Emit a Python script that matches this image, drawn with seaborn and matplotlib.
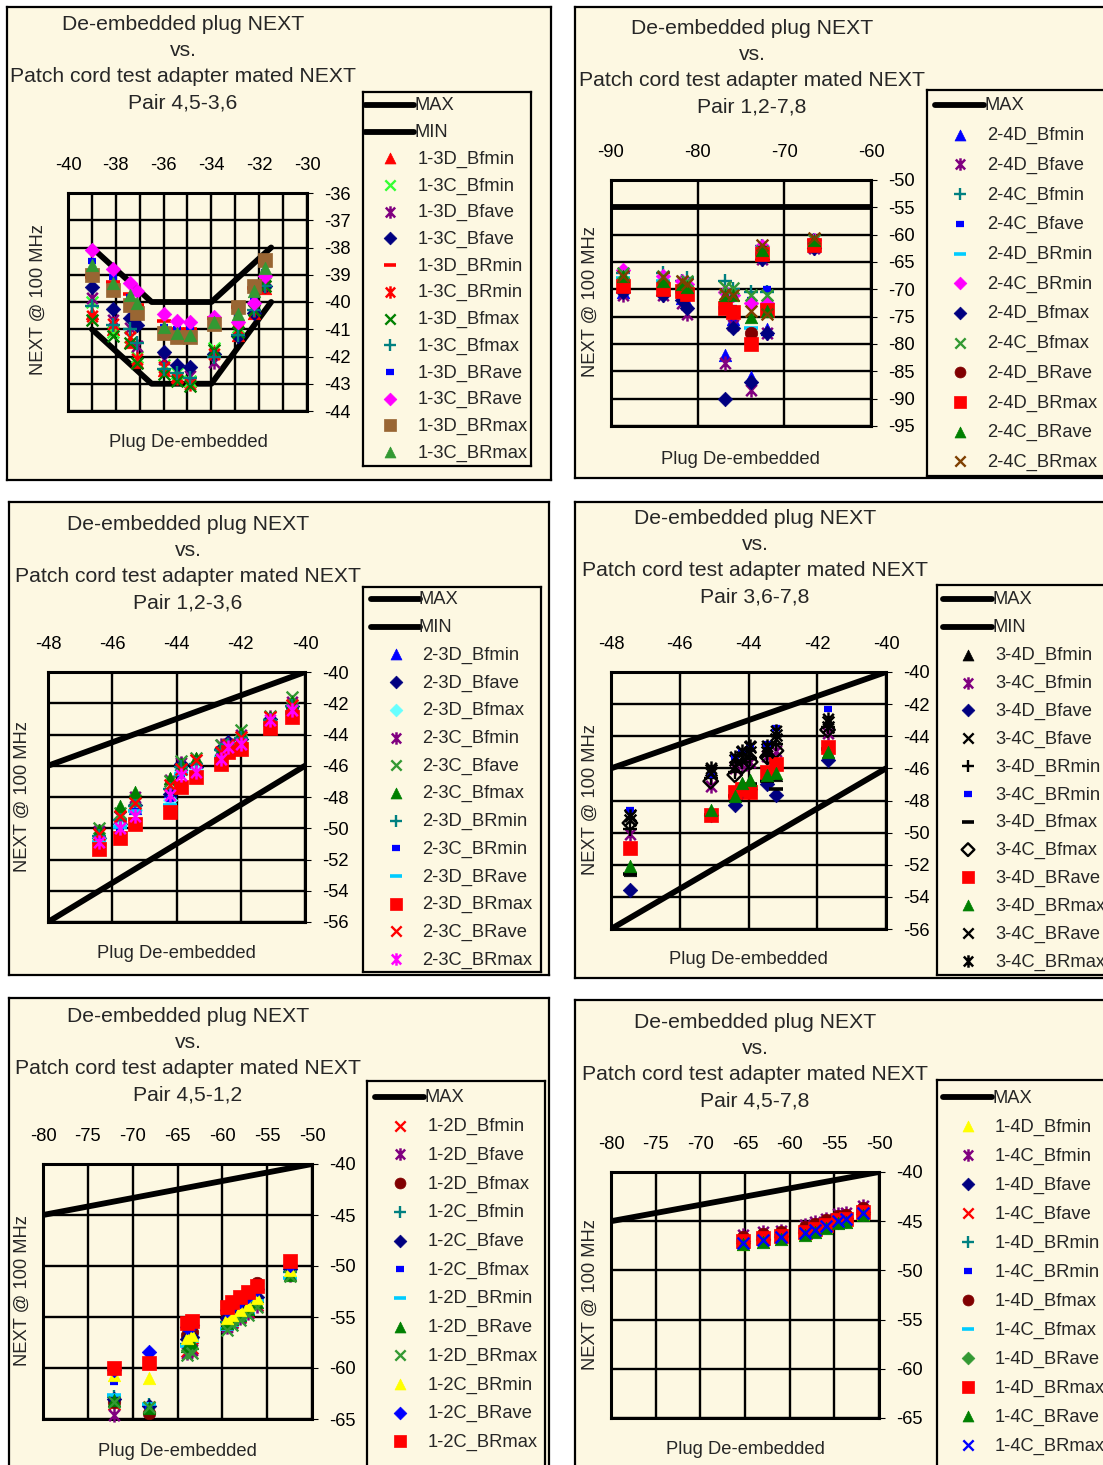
import matplotlib
matplotlib.use('Agg')
import matplotlib.pyplot as plt
from matplotlib.markers import MarkerStyle
from matplotlib.path import Path
import seaborn as sns

sns.set_style('white')
plt.rcParams['font.family'] = ['Liberation Sans', 'DejaVu Sans']

W, H = 1103, 1465
BG = '#FDF8E2'

TITLE1 = 'De-embedded plug NEXT'
TITLE2 = 'vs.'
TITLE3 = 'Patch cord test adapter mated NEXT'

# ---------------- panel 1 : pair 4,5-3,6 ----------------
p1_names = ['1-3D_Bfmin', '1-3C_Bfmin', '1-3D_Bfave', '1-3C_Bfave', '1-3D_BRmin', '1-3C_BRmin',
            '1-3D_Bfmax', '1-3C_Bfmax', '1-3D_BRave', '1-3C_BRave', '1-3D_BRmax', '1-3C_BRmax']
p1_x = [-39.0, -38.1, -37.4, -37.1, -36.0, -35.45, -34.9, -33.9, -32.9, -32.2, -31.75]
p1_y = [
    [-40.4, -41.0, -41.45, -42.2, -42.5, -42.7, -42.9, -41.8, -41.2, -40.4, -39.5],
    [-40.0, -41.1, -41.3, -42.0, -42.3, -42.6, -42.9, -41.7, -40.9, -40.2, -39.3],
    [-39.85, -40.65, -40.95, -41.6, -42.1, -42.5, -42.7, -42.2, -41.1, -40.3, -39.4],
    [-39.45, -40.25, -40.6, -40.85, -41.85, -42.3, -42.4, -41.9, -41.25, -40.4, -39.4],
    [-39.1, -39.25, -39.7, -40.1, -40.7, -41.0, -41.0, -40.6, -40.2, -39.5, -38.5],
    [-40.5, -40.8, -41.3, -42.1, -42.4, -42.8, -43.0, -41.9, -41.0, -40.3, -39.4],
    [-40.65, -41.25, -41.5, -42.25, -42.65, -42.9, -43.1, -41.75, -41.1, -40.3, -39.4],
    [-40.15, -40.85, -41.0, -41.5, -42.45, -42.6, -42.8, -42.0, -41.2, -40.3, -39.4],
    [-38.5, -39.1, -39.8, -40.1, -40.9, -41.0, -40.9, -40.6, -40.4, -39.8, -38.9],
    [-38.1, -38.8, -39.3, -39.6, -40.45, -40.7, -40.75, -40.55, -40.75, -40.05, -39.05],
    [-39.0, -39.55, -40.1, -40.4, -41.15, -41.3, -41.3, -40.8, -40.2, -39.4, -38.45],
    [-38.65, -39.3, -39.75, -40.05, -40.9, -41.15, -41.2, -40.75, -40.45, -39.6, -38.75],
]
p1_max_x = [-39.0, -36.5, -34.0, -31.5]
p1_max_y = [-38.0, -40.0, -40.0, -38.0]
p1_min_x = [-39.0, -36.5, -34.0, -31.5]
p1_min_y = [-41.0, -43.0, -43.0, -40.0]
p1_kinds = ['tri', 'x', 'star', 'dia', 'bar', 'star', 'x', 'plus', 'dash', 'dia', 'sq', 'tri']
p1_colors = ['#FF0000', '#33FF33', '#800080', '#000080', '#FF0000', '#FF0000',
             '#008000', '#008080', '#0000FF', '#FF00FF', '#996633', '#339933']

# ---------------- panel 2 : pair 1,2-7,8 ----------------
p2_names = ['2-4D_Bfmin', '2-4D_Bfave', '2-4C_Bfmin', '2-4C_Bfave', '2-4D_BRmin', '2-4C_BRmin',
            '2-4D_Bfmax', '2-4C_Bfmax', '2-4D_BRave', '2-4D_BRmax', '2-4C_BRave', '2-4C_BRmax']
p2_x = [-88.6, -84.0, -81.8, -81.2, -76.9, -75.9, -73.9, -72.6, -72.0, -66.6]
p2_y = [
    [-70.5, -70.0, -71.5, -72.5, -82.0, -75.5, -86.0, -63.5, -77.2, -62.0],
    [-71.0, -71.0, -72.5, -74.5, -83.5, -76.5, -88.5, -64.5, -78.0, -62.5],
    [-67.0, -67.0, -68.5, -68.0, -68.5, -70.0, -70.5, -62.0, -70.5, -61.0],
    [-69.5, -69.5, -70.0, -70.5, -73.0, -73.5, -72.0, -64.0, -70.0, -62.0],
    [-68.0, -68.5, -70.5, -70.8, -73.5, -74.5, -77.0, -63.5, -73.0, -61.5],
    [-66.5, -67.5, -68.5, -69.0, -70.5, -71.0, -72.5, -62.0, -72.5, -61.0],
    [-70.5, -71.0, -72.0, -73.5, -90.0, -77.0, -87.0, -64.5, -78.0, -62.5],
    [-67.0, -67.5, -68.5, -68.5, -69.5, -69.8, -71.0, -63.0, -71.0, -61.0],
    [-69.0, -69.8, -70.5, -71.0, -73.0, -74.0, -78.0, -63.0, -74.0, -61.5],
    [-69.3, -70.0, -70.3, -70.8, -73.5, -74.2, -80.0, -63.5, -73.8, -61.8],
    [-67.5, -68.5, -69.0, -69.5, -71.0, -71.0, -75.0, -62.8, -74.0, -61.0],
    [-67.5, -67.8, -68.5, -69.0, -70.8, -71.0, -74.0, -61.8, -74.5, -60.7],
]
p2_max_x = [-90.0, -60.0]
p2_max_y = [-55.0, -55.0]
p2_kinds = ['tri', 'star', 'plus', 'dash', 'bar', 'dia', 'dia', 'x', 'circle', 'sq', 'tri', 'x']
p2_colors = ['#0000FF', '#800080', '#008080', '#0000FF', '#00CCFF', '#FF00FF',
             '#000080', '#339933', '#800000', '#FF0000', '#008000', '#7F3F00']

# ---------------- panel 3 : pair 1,2-3,6 ----------------
p3_names = ['2-3D_Bfmin', '2-3D_Bfave', '2-3D_Bfmax', '2-3C_Bfmin', '2-3C_Bfave', '2-3C_Bfmax',
            '2-3D_BRmin', '2-3C_BRmin', '2-3D_BRave', '2-3D_BRmax', '2-3C_BRave', '2-3C_BRmax']
p3_x = [-46.4, -45.75, -45.3, -44.2, -43.85, -43.4, -42.6, -42.4, -42.0, -41.1, -40.4]
p3_y = [
    [-50.5, -49.6, -48.7, -47.6, -46.0, -46.0, -45.0, -44.6, -44.2, -43.0, -42.0],
    [-50.6, -49.7, -48.5, -47.8, -45.9, -46.1, -44.9, -44.5, -44.3, -43.0, -42.2],
    [-50.7, -49.8, -48.8, -48.2, -46.3, -46.3, -45.3, -45.0, -44.5, -43.3, -42.5],
    [-50.2, -49.3, -48.0, -46.9, -45.8, -45.6, -44.7, -44.6, -44.0, -42.9, -41.9],
    [-50.0, -49.0, -48.2, -47.0, -45.7, -45.5, -44.7, -44.7, -43.7, -42.8, -41.6],
    [-50.1, -48.6, -47.7, -46.8, -45.9, -45.5, -44.9, -44.8, -43.9, -42.9, -41.9],
    [-50.5, -49.5, -48.6, -47.5, -46.1, -45.9, -45.0, -44.7, -44.2, -43.1, -42.2],
    [-50.8, -50.0, -48.9, -48.1, -46.6, -46.5, -45.4, -45.1, -44.6, -43.3, -42.6],
    [-50.9, -49.9, -48.9, -48.5, -46.5, -46.5, -45.5, -45.0, -44.7, -43.4, -42.6],
    [-51.3, -50.65, -49.7, -48.95, -47.35, -46.7, -45.9, -45.1, -44.9, -43.6, -42.9],
    [-50.35, -49.2, -48.4, -47.25, -46.2, -45.65, -45.1, -44.7, -44.15, -42.9, -42.1],
    [-50.9, -50.0, -49.2, -47.9, -46.6, -46.4, -45.55, -44.8, -44.6, -43.1, -42.45],
]
p3_max_x = [-48.0, -40.0]
p3_max_y = [-46.0, -40.0]
p3_min_x = [-48.0, -40.0]
p3_min_y = [-56.0, -46.0]
p3_kinds = ['tri', 'dia', 'dia', 'star', 'x', 'tri', 'plus', 'dash', 'bar', 'sq', 'x', 'star']
p3_colors = ['#0000FF', '#000080', '#66FFFF', '#800080', '#339933', '#008000',
             '#008080', '#0000FF', '#00CCFF', '#FF0000', '#FF0000', '#FF00FF']

# ---------------- panel 4 : pair 3,6-7,8 ----------------
p4_names = ['3-4D_Bfmin', '3-4C_Bfmin', '3-4D_Bfave', '3-4C_Bfave', '3-4D_BRmin', '3-4C_BRmin',
            '3-4D_Bfmax', '3-4C_Bfmax', '3-4D_BRave', '3-4D_BRmax', '3-4C_BRave', '3-4C_BRmax']
p4_x = [-47.45, -45.1, -44.4, -44.2, -43.95, -43.45, -43.2, -41.7]
p4_y = [
    [-52.3, -48.7, -47.6, -47.0, -46.8, -46.5, -46.4, -45.0],
    [-50.1, -47.1, -46.0, -45.8, -45.6, -45.2, -44.9, -43.8],
    [-53.6, -48.9, -48.25, -47.5, -47.3, -47.0, -47.65, -45.5],
    [-48.9, -46.1, -45.5, -45.0, -44.7, -44.8, -43.9, -43.1],
    [-49.8, -46.6, -46.2, -45.6, -45.4, -45.2, -44.5, -43.4],
    [-48.6, -46.4, -45.3, -45.0, -44.75, -44.5, -43.5, -42.3],
    [-52.55, -48.9, -47.7, -47.2, -47.0, -46.8, -47.3, -44.8],
    [-49.4, -46.8, -46.4, -45.9, -45.6, -45.3, -44.9, -43.6],
    [-50.95, -48.9, -47.45, -47.3, -47.45, -46.2, -45.7, -44.65],
    [-52.1, -48.6, -47.75, -46.9, -46.7, -46.4, -46.3, -44.95],
    [-49.2, -46.3, -45.9, -45.3, -45.0, -45.0, -44.2, -43.4],
    [-48.95, -46.0, -45.3, -44.9, -44.6, -44.6, -43.7, -42.9],
]
p4_max_x = [-48.0, -40.0]
p4_max_y = [-46.0, -40.0]
p4_min_x = [-48.0, -40.0]
p4_min_y = [-56.0, -46.0]
p4_kinds = ['tri', 'star', 'dia', 'x', 'plus', 'dash', 'bar', 'odia', 'sq', 'tri', 'x', 'star']
p4_colors = ['#000000', '#800080', '#000080', '#000000', '#000000', '#0000FF',
             '#000000', '#000000', '#FF0000', '#008000', '#000000', '#000000']

# ---------------- panel 5 : pair 4,5-1,2 ----------------
p5_names = ['1-2D_Bfmin', '1-2D_Bfave', '1-2D_Bfmax', '1-2C_Bfmin', '1-2C_Bfave', '1-2C_Bfmax',
            '1-2D_BRmin', '1-2D_BRave', '1-2D_BRmax', '1-2C_BRmin', '1-2C_BRave', '1-2C_BRmax']
p5_x = [-72.1, -68.2, -63.9, -63.4, -59.5, -58.9, -58.0, -57.1, -56.1, -52.4]
p5_y = [
    [-63.5, -63.8, -58.3, -58.0, -55.8, -55.5, -55.0, -54.5, -53.8, -50.8],
    [-64.6, -64.2, -58.5, -58.2, -56.0, -55.6, -55.1, -54.6, -53.9, -50.9],
    [-63.3, -64.4, -56.8, -56.5, -54.8, -54.3, -53.8, -53.0, -51.7, -50.0],
    [-62.8, -63.6, -57.6, -57.3, -55.5, -55.0, -54.6, -54.0, -53.3, -50.6],
    [-63.0, -63.7, -57.2, -57.0, -55.1, -54.7, -54.2, -53.6, -53.0, -50.3],
    [-61.4, -63.9, -56.2, -56.0, -54.3, -54.0, -53.5, -53.0, -52.3, -49.9],
    [-62.6, -63.5, -57.8, -57.4, -56.2, -55.8, -55.3, -54.7, -53.4, -51.2],
    [-63.1, -63.9, -57.8, -57.5, -55.6, -55.2, -54.8, -54.2, -53.5, -50.9],
    [-63.3, -63.8, -58.7, -58.5, -56.25, -55.8, -55.3, -54.8, -54.0, -51.0],
    [-60.65, -61.0, -57.1, -56.8, -55.1, -54.8, -54.3, -53.8, -53.15, -50.4],
    [-60.2, -58.4, -56.0, -55.8, -54.3, -53.9, -53.4, -52.9, -52.3, -49.9],
    [-60.0, -59.5, -55.6, -55.4, -54.0, -53.5, -53.0, -52.5, -52.0, -49.55],
]
p5_max_x = [-80.0, -50.0]
p5_max_y = [-45.0, -40.0]
p5_kinds = ['x', 'star', 'circle', 'plus', 'dia', 'dash', 'bar', 'tri', 'x', 'tri', 'dia', 'sq']
p5_colors = ['#FF0000', '#800080', '#800000', '#008080', '#000080', '#0000FF',
             '#00CCFF', '#008000', '#339933', '#FFFF00', '#0000FF', '#FF0000']

# ---------------- panel 6 : pair 4,5-7,8 ----------------
p6_names = ['1-4D_Bfmin', '1-4C_Bfmin', '1-4D_Bfave', '1-4C_Bfave', '1-4D_BRmin', '1-4C_BRmin',
            '1-4D_Bfmax', '1-4C_Bfmax', '1-4D_BRave', '1-4D_BRmax', '1-4C_BRave', '1-4C_BRmax']
p6_x = [-65.2, -63.0, -61.0, -58.3, -57.2, -55.9, -54.6, -53.7, -51.8]
p6_y = [
    [-47.3, -47.0, -46.7, -46.3, -46.0, -45.6, -45.1, -45.0, -44.3],
    [-46.4, -46.1, -46.0, -45.4, -45.1, -44.8, -44.3, -44.2, -43.5],
    [-47.0, -46.8, -46.5, -46.1, -45.8, -45.4, -44.9, -44.7, -44.1],
    [-47.1, -46.8, -46.5, -46.1, -45.8, -45.3, -44.8, -44.7, -44.0],
    [-46.9, -46.6, -46.4, -46.0, -45.7, -45.3, -44.8, -44.6, -44.0],
    [-46.8, -46.5, -46.3, -45.9, -45.6, -45.2, -44.7, -44.6, -43.9],
    [-46.6, -46.3, -46.1, -45.6, -45.3, -44.9, -44.5, -44.4, -43.7],
    [-47.0, -46.7, -46.5, -46.0, -45.7, -45.3, -44.9, -44.6, -44.0],
    [-47.2, -46.9, -46.6, -46.2, -45.9, -45.5, -45.1, -45.0, -44.3],
    [-47.0, -46.7, -46.5, -46.1, -45.8, -45.4, -44.9, -44.8, -44.1],
    [-47.3, -47.1, -46.8, -46.4, -46.1, -45.7, -45.2, -45.1, -44.4],
    [-47.2, -46.9, -46.6, -46.2, -45.9, -45.5, -45.0, -44.8, -44.2],
]
p6_max_x = [-80.0, -50.0]
p6_max_y = [-45.0, -40.0]
p6_kinds = ['tri', 'star', 'dia', 'x', 'plus', 'dash', 'circle', 'bar', 'dia', 'sq', 'tri', 'x']
p6_colors = ['#FFFF00', '#800080', '#000080', '#FF0000', '#008080', '#0000FF',
             '#800000', '#00CCFF', '#339933', '#FF0000', '#008000', '#0000FF']


# Excel style star: an x with a vertical bar through it
STAR_PATH = Path([(0, -1), (0, 1), (-0.75, -0.8), (0.75, 0.8), (-0.75, 0.8), (0.75, -0.8)],
                 [Path.MOVETO, Path.LINETO, Path.MOVETO, Path.LINETO, Path.MOVETO, Path.LINETO])

STYLE = {
    'tri': dict(marker='^', s=62),
    'dia': dict(marker='D', s=42),
    'sq': dict(marker='s', s=70),
    'circle': dict(marker='o', s=62),
    'x': dict(marker='x', s=55, linewidth=1.7),
    'star': dict(marker=STAR_PATH, s=80, linewidth=1.8),
    'plus': dict(marker='+', s=70, linewidth=1.7),
    'bar': dict(marker='_', s=85, linewidth=2.6),
    'dash': dict(marker='_', s=32, linewidth=4.5),
    'odia': dict(marker=MarkerStyle('D', fillstyle='none'), s=42, linewidth=1.7),
}
FILLED = {'tri', 'dia', 'sq', 'circle'}


def px_axes(fig, x0, y0, x1, y1, zorder=1):
    return fig.add_axes([x0 / W, 1 - y1 / H, (x1 - x0) / W, (y1 - y0) / H], zorder=zorder)


def kind_kws(kind, color, scale=1.0):
    kw = dict(STYLE[kind])
    kw['s'] = kw['s'] * scale
    kw['edgecolor'] = color
    if kind in FILLED:
        kw['linewidth'] = 0.5
    return kw


def draw_panel(fig, box, plot, xlim, ylim, xticks, xlabels, yticks, bounds,
               title4, tcx, ty0, ylab, xlab, leg, leg_y0, leg_dy, leg_mx, leg_tx,
               names, xs, ys, kinds, colors):
    bg = px_axes(fig, *box, zorder=0)
    bg.set_facecolor(BG)
    bg.set_xticks([])
    bg.set_yticks([])
    for s in bg.spines.values():
        s.set_linewidth(1.6)
        s.set_color('black')

    ax = px_axes(fig, *plot, zorder=2)
    ax.set_facecolor(BG)
    for (bx, by) in bounds:
        sns.lineplot(x=bx, y=by, sort=False, estimator=None, color='black', lw=4.2,
                     solid_capstyle='round', ax=ax, zorder=3)
    for name, yv, kind, col in zip(names, ys, kinds, colors):
        sns.scatterplot(x=xs, y=yv, color=col, ax=ax, zorder=4, legend=False,
                        clip_on=False, **kind_kws(kind, col, 1.3))
    ax.set_xlim(*xlim)
    ax.set_ylim(*ylim)
    ax.set_xticks(xticks, xlabels)
    ax.set_yticks(yticks, [f'{v:g}' for v in yticks])
    ax.xaxis.tick_top()
    ax.yaxis.tick_right()
    ax.tick_params(axis='x', direction='in', length=3, pad=14, labelsize=13.2, colors='black')
    ax.tick_params(axis='y', direction='out', length=4, pad=8, labelsize=13.2, colors='black')
    ax.grid(True, color='black', lw=1.7)
    ax.set_axisbelow(True)
    ax.set_xlabel('')
    ax.set_ylabel('')
    for s in ax.spines.values():
        s.set_linewidth(2.2)
        s.set_color('black')

    for i, line in enumerate(title4):
        fig.text(tcx / W, 1 - (ty0 + 26 * i) / H, line, ha='center', va='center', fontsize=15.2)
    fig.text(ylab[0] / W, 1 - ylab[1] / H, 'NEXT @ 100 MHz', rotation=90,
             ha='center', va='center', fontsize=13.2)
    fig.text(xlab[0] / W, 1 - xlab[1] / H, 'Plug De-embedded', ha='center', va='center',
             fontsize=13.2)

    # legend box drawn in pixel units
    lg = px_axes(fig, *leg, zorder=3)
    lg.set_facecolor(BG)
    lg.set_xlim(leg[0], leg[2])
    lg.set_ylim(leg[3], leg[1])
    lg.set_xticks([])
    lg.set_yticks([])
    for s in lg.spines.values():
        s.set_linewidth(1.6)
        s.set_color('black')
    row = 0
    for lab in ['MAX', 'MIN'][:len(bounds)]:
        yy = leg_y0 + leg_dy * row
        lg.plot([leg_mx - 25, leg_mx + 24], [yy, yy], color='black', lw=4.2,
                solid_capstyle='round')
        lg.text(leg_tx - 3, yy + 1, lab, va='center', ha='left', fontsize=13.2)
        row += 1
    for name, kind, col in zip(names, kinds, colors):
        yy = leg_y0 + leg_dy * row
        lg.scatter([leg_mx], [yy], color=col, **kind_kws(kind, col))
        lg.text(leg_tx, yy + 1, name, va='center', ha='left', fontsize=13.2)
        row += 1


fig = plt.figure(figsize=(W / 100, H / 100), dpi=100)
fig.patch.set_facecolor('white')

ticks1 = list(range(-40, -29))
draw_panel(fig, (7, 7, 551, 480), (68, 193, 307, 411), (-40, -30), (-44, -36),
           ticks1, [str(t) if t % 2 == 0 else '' for t in ticks1], list(range(-44, -35)),
           [(p1_max_x, p1_max_y), (p1_min_x, p1_min_y)],
           [TITLE1, TITLE2, TITLE3, 'Pair 4,5-3,6'], 183, 25, (38, 300), (188, 443),
           (363, 92, 531, 466), 105, 26.7, 390, 418,
           p1_names, p1_x, p1_y, p1_kinds, p1_colors)

ticks2 = [-90, -80, -70, -60]
draw_panel(fig, (575, 7, 1112, 478), (611, 180, 871, 426), (-90, -60), (-95, -50),
           ticks2, [str(t) for t in ticks2], list(range(-95, -49, 5)),
           [(p2_max_x, p2_max_y)],
           [TITLE1, TITLE2, TITLE3, 'Pair 1,2-7,8'], 752, 29, (590, 302), (740, 460),
           (927, 90, 1112, 476), 105, 29.7, 960, 987,
           p2_names, p2_x, p2_y, p2_kinds, p2_colors)

ticks3 = [-48, -46, -44, -42, -40]
draw_panel(fig, (9, 502, 549, 975), (48, 672, 305, 922), (-48, -40), (-56, -40),
           ticks3, [str(t) for t in ticks3], list(range(-56, -39, 2)),
           [(p3_max_x, p3_max_y), (p3_min_x, p3_min_y)],
           [TITLE1, TITLE2, TITLE3, 'Pair 1,2-3,6'], 188, 525, (22, 797), (176, 954),
           (363, 587, 541, 972), 599, 27.7, 396, 422,
           p3_names, p3_x, p3_y, p3_kinds, p3_colors)

draw_panel(fig, (575, 502, 1112, 978), (611, 672, 886, 929), (-48, -40), (-56, -40),
           ticks3, [str(t) for t in ticks3], list(range(-56, -39, 2)),
           [(p4_max_x, p4_max_y), (p4_min_x, p4_min_y)],
           [TITLE1, TITLE2, TITLE3, 'Pair 3,6-7,8'], 755, 519, (590, 800), (748, 960),
           (937, 585, 1112, 975), 599, 27.85, 968, 995,
           p4_names, p4_x, p4_y, p4_kinds, p4_colors)

ticks5 = list(range(-80, -49, 5))
draw_panel(fig, (9, 998, 549, 1475), (43, 1164, 312, 1419), (-80, -50), (-65, -40),
           ticks5, [str(t) for t in ticks5], list(range(-65, -39, 5)),
           [(p5_max_x, p5_max_y)],
           [TITLE1, TITLE2, TITLE3, 'Pair 4,5-1,2'], 188, 1017, (22, 1291), (177, 1451),
           (367, 1081, 545, 1475), 1097, 28.7, 400, 428,
           p5_names, p5_x, p5_y, p5_kinds, p5_colors)

draw_panel(fig, (575, 1000, 1112, 1475), (611, 1172, 879, 1418), (-80, -50), (-65, -40),
           ticks5, [str(t) for t in ticks5], list(range(-65, -39, 5)),
           [(p6_max_x, p6_max_y)],
           [TITLE1, TITLE2, TITLE3, 'Pair 4,5-7,8'], 755, 1023, (590, 1295), (745, 1450),
           (937, 1080, 1112, 1475), 1097, 29.0, 968, 995,
           p6_names, p6_x, p6_y, p6_kinds, p6_colors)

fig.savefig('out.png', dpi=100, facecolor='white')
